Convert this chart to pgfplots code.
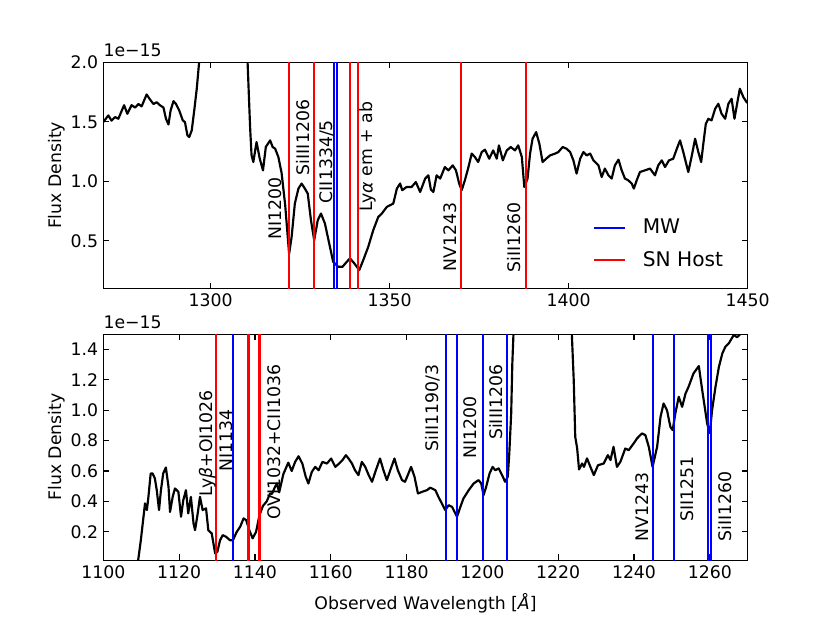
\documentclass[border=0pt]{standalone}
\usepackage{fontspec}
\setmainfont{DejaVu Sans}
\usepackage{pgfplots}
\pgfplotsset{compat=1.18}

\pgfplotsset{
  specaxis/.style={
    scale only axis, width=447.2pt, height=156.8pt, anchor=south west,
    axis line style={line width=0.8pt},
    every tick/.style={black, line width=0.8pt},
    major tick length=4pt,
    tick align=inside,
    xtick pos=both, ytick pos=both,
    font=\fontsize{12}{14}\selectfont,
    tick label style={font=\fontsize{12}{14}\selectfont},
    /pgf/number format/assume math mode=true,
    scaled ticks=false,
    clip mode=individual,
    ylabel={Flux Density},
    ylabel style={at={(axis description cs:-0.072,0.5)}, anchor=center},
    xticklabel style={/pgf/number format/.cd, fixed, precision=0, 1000 sep={}},
    yticklabel style={/pgf/number format/.cd, fixed, fixed zerofill, precision=1},
  },
  vl/.style={line width=1.4pt, forget plot},
  spec/.style={black, line width=1.5pt, forget plot, line join=round},
}
\tikzset{lab/.style={rotate=90, anchor=west, inner sep=0pt, font=\fontsize{12}{14}\selectfont}}

\begin{document}
\begin{tikzpicture}
\useasboundingbox (0,0) rectangle (576pt,432.4pt);

% ---------------- top panel ----------------
\begin{axis}[specaxis, at={(71.7pt,232.3pt)},
  xmin=1270, xmax=1450, ymin=0.1, ymax=2.0,
  xtick={1300,1350,1400,1450},
  ytick={0.5,1.0,1.5,2.0},
  legend style={draw=none, fill=none, font=\fontsize{14}{16}\selectfont,
    at={(rel axis cs:0.752,0.196)}, anchor=west, row sep=7pt},
  legend cell align=left,
  legend image code/.code={\draw[#1] (0pt,0pt) -- (21.5pt,0pt); \path (31.5pt,0pt);},
]
\addplot[spec] coordinates {
(1270.0,1.498) (1271.4,1.554) (1272.3,1.51) (1273.3,1.54) (1274.2,1.526)
(1275.8,1.64) (1276.7,1.568) (1277.9,1.64) (1278.9,1.62) (1279.8,1.65)
(1280.7,1.63) (1282.1,1.73) (1283.0,1.69) (1284.0,1.65) (1284.9,1.665)
(1285.8,1.64) (1286.8,1.62) (1287.5,1.526) (1288.2,1.478) (1288.8,1.596)
(1289.6,1.674) (1290.3,1.65) (1291.2,1.596) (1292.2,1.512) (1292.8,1.498)
(1293.5,1.386) (1294.0,1.372) (1294.7,1.428) (1295.4,1.596) (1296.1,1.778)
(1296.8,2.015) (1297.5,2.5) (1309.8,2.5) (1310.3,2.0) (1311.0,1.456)
(1311.4,1.22) (1311.9,1.162) (1312.8,1.33) (1313.7,1.19) (1314.6,1.092)
(1315.4,1.29) (1316.6,1.344) (1317.3,1.288) (1318.0,1.274) (1318.9,1.204)
(1319.8,1.07) (1320.8,0.80) (1321.9,0.39) (1322.6,0.533) (1323.5,0.813)
(1324.5,0.939) (1325.4,0.981) (1326.3,0.939) (1327.1,0.897) (1328.0,0.673)
(1328.9,0.505) (1329.9,0.673) (1330.8,0.729) (1331.9,0.645) (1333.3,0.449)
(1334.2,0.323) (1335.6,0.281) (1336.8,0.281) (1338.0,0.323) (1338.9,0.352)
(1340.1,0.31) (1341.5,0.254) (1342.6,0.337) (1344.0,0.449) (1345.4,0.589)
(1346.8,0.70) (1347.8,0.729) (1349.2,0.785) (1351.0,0.813) (1352.0,0.939)
(1352.9,0.981) (1353.5,0.925) (1354.7,0.952) (1356.1,0.952) (1357.3,0.994)
(1358.5,0.91) (1359.9,1.023) (1360.8,1.05) (1361.5,0.93) (1362.2,0.91)
(1363.1,1.05) (1364.1,1.023) (1365.4,1.12) (1366.4,1.092) (1367.6,1.134)
(1368.5,1.092) (1369.4,0.981) (1370.1,0.925) (1371.0,1.009) (1372.0,1.12)
(1372.9,1.233) (1373.8,1.204) (1374.7,1.162) (1375.7,1.246) (1376.6,1.266)
(1377.8,1.19) (1378.9,1.26) (1379.9,1.19) (1380.5,1.302) (1381.6,1.176)
(1382.7,1.26) (1383.8,1.288) (1385.0,1.26) (1385.9,1.302) (1386.9,1.204)
(1387.6,0.952) (1388.5,1.023) (1389.2,1.233) (1389.9,1.358) (1390.9,1.414)
(1391.8,1.316) (1392.7,1.162) (1393.7,1.19) (1394.8,1.218) (1396.2,1.233)
(1397.1,1.246) (1398.3,1.288) (1399.4,1.274) (1400.4,1.246) (1401.3,1.176)
(1402.2,1.065) (1403.2,1.19) (1404.1,1.246) (1405.0,1.218) (1406.0,1.233)
(1406.9,1.176) (1408.3,1.134) (1409.2,1.036) (1410.1,1.107) (1411.1,1.05)
(1412.0,1.023) (1412.9,1.134) (1413.9,1.182) (1414.8,1.092) (1415.7,1.023)
(1416.6,1.009) (1417.6,0.981) (1418.2,0.939) (1419.0,1.009) (1419.9,1.078)
(1421.3,1.092) (1422.7,1.107) (1424.1,1.05) (1425.0,1.134) (1426.0,1.176)
(1426.9,1.12) (1428.0,1.176) (1429.2,1.19) (1430.2,1.274) (1431.1,1.344)
(1432.0,1.246) (1433.4,1.078) (1434.4,1.218) (1435.3,1.358) (1436.2,1.246)
(1437.0,1.162) (1437.6,1.316) (1438.3,1.484) (1439.0,1.526) (1439.9,1.512)
(1440.9,1.61) (1441.8,1.652) (1442.7,1.568) (1443.7,1.526) (1444.6,1.652)
(1445.5,1.694) (1446.3,1.526) (1447.2,1.68) (1447.8,1.778) (1448.8,1.707)
(1449.7,1.665) (1450.0,1.66)
};
\addplot[vl, red]  coordinates {(1321.9,0) (1321.9,3)};
\addplot[vl, red]  coordinates {(1328.8,0) (1328.8,3)};
\addplot[vl, blue] coordinates {(1334.4,0) (1334.4,3)};
\addplot[vl, blue] coordinates {(1335.3,0) (1335.3,3)};
\addplot[vl, red]  coordinates {(1338.8,0) (1338.8,3)};
\addplot[vl, red]  coordinates {(1341.1,0) (1341.1,3)};
\addplot[vl, red]  coordinates {(1370.0,0) (1370.0,3)};
\addplot[vl, red]  coordinates {(1388.0,0) (1388.0,3)};
\addlegendimage{blue, line width=1.4pt}
\addlegendentry{MW}
\addlegendimage{red, line width=1.4pt}
\addlegendentry{SN Host}
\node[lab] at (axis cs:1318.0,0.505) {NI1200};
\node[lab] at (axis cs:1325.9,1.05) {SiIII1206};
\node[lab] at (axis cs:1332.4,0.813) {CII1334/5};
\node[lab] at (axis cs:1343.9,0.743) {Ly\textit{α} em + ab};
\node[lab] at (axis cs:1366.9,0.24) {NV1243};
\node[lab] at (axis cs:1384.7,0.23) {SiII1260};
\node[anchor=south west, inner sep=0pt, font=\fontsize{12}{14}\selectfont] at (rel axis cs:0,1) [yshift=3.5pt] {1e−15};
\end{axis}

% ---------------- bottom panel ----------------
\begin{axis}[specaxis, at={(71.7pt,43.7pt)},
  xmin=1100, xmax=1270, ymin=0.014, ymax=1.5,
  xtick={1100,1120,1140,1160,1180,1200,1220,1240,1260},
  ytick={0.2,0.4,0.6,0.8,1.0,1.2,1.4},
  xlabel={Observed Wavelength [\textit{Å}]},
  xlabel style={at={(axis description cs:0.5,-0.19)}, anchor=center},
]
\addplot[spec] coordinates {
(1109.0,-0.05) (1109.2,0.014) (1109.9,0.145) (1110.6,0.299) (1111.0,0.387)
(1111.5,0.343) (1111.9,0.43) (1112.5,0.584) (1113.0,0.584) (1113.6,0.551)
(1114.1,0.474) (1114.7,0.343) (1115.2,0.474) (1115.8,0.584) (1116.5,0.623)
(1117.2,0.496) (1117.6,0.331) (1118.3,0.43) (1118.9,0.485) (1119.8,0.463)
(1120.5,0.299) (1121.1,0.408) (1121.8,0.474) (1122.4,0.321) (1123.1,0.43)
(1123.8,0.255) (1124.2,0.211) (1124.9,0.321) (1125.5,0.43) (1126.2,0.343)
(1127.1,0.354) (1127.7,0.211) (1128.6,0.189) (1129.5,0.058) (1130.1,0.069)
(1130.8,0.145) (1131.5,0.178) (1132.4,0.167) (1133.4,0.145) (1134.2,0.145)
(1135.2,0.2) (1136.1,0.233) (1137.0,0.288) (1137.7,0.277) (1138.5,0.211)
(1139.4,0.157) (1140.3,0.2) (1141.2,0.31) (1142.1,0.37) (1143.1,0.40)
(1144.0,0.452) (1144.5,0.45) (1145.2,0.49) (1145.8,0.518) (1146.4,0.46)
(1147.5,0.58) (1148.8,0.655) (1149.7,0.60) (1150.6,0.66) (1151.5,0.697)
(1152.5,0.649) (1153.4,0.562) (1154.1,0.518) (1155.0,0.594) (1155.9,0.627)
(1156.8,0.605) (1157.8,0.66) (1159.0,0.649) (1160.1,0.682) (1161.2,0.627)
(1162.2,0.649) (1163.1,0.672) (1164.0,0.704) (1164.7,0.682) (1165.6,0.649)
(1166.4,0.605) (1167.3,0.573) (1168.2,0.66) (1169.1,0.627) (1170.0,0.573)
(1170.9,0.529) (1171.9,0.605) (1173.0,0.682) (1173.9,0.605) (1174.8,0.54)
(1175.7,0.605) (1176.8,0.682) (1177.7,0.605) (1178.8,0.54) (1179.6,0.529)
(1180.5,0.584) (1181.2,0.627) (1182.1,0.562) (1183.0,0.452) (1184.1,0.463)
(1185.4,0.474) (1186.2,0.49) (1186.7,0.485) (1187.6,0.474) (1188.4,0.43)
(1189.3,0.387) (1190.2,0.343) (1191.1,0.375) (1192.0,0.364) (1193.3,0.299)
(1194.2,0.364) (1195.0,0.419) (1196.4,0.474) (1197.7,0.518) (1199.0,0.54)
(1199.7,0.518) (1200.3,0.441) (1201.0,0.496) (1201.9,0.584) (1202.7,0.627)
(1203.4,0.605) (1204.3,0.617) (1205.2,0.573) (1206.0,0.529) (1206.7,0.562)
(1207.1,0.715) (1207.6,0.978) (1207.9,1.307) (1208.2,1.5) (1208.6,2.0)
(1223.2,2.0) (1223.6,1.5) (1224.1,1.197) (1224.5,0.824) (1225.0,0.75)
(1225.5,0.61) (1226.3,0.649) (1226.8,0.627) (1227.6,0.683) (1228.5,0.627)
(1229.4,0.573) (1230.5,0.638) (1232.0,0.649) (1233.1,0.704) (1233.8,0.672)
(1234.6,0.759) (1235.5,0.627) (1236.4,0.66) (1237.7,0.748) (1238.6,0.737)
(1239.9,0.781) (1240.8,0.814) (1242.1,0.847) (1243.0,0.836) (1243.9,0.759)
(1244.9,0.627) (1246.1,0.759) (1247.0,0.956) (1247.8,1.044) (1248.7,1.0)
(1249.6,0.89) (1250.2,0.869) (1250.9,0.978) (1251.8,1.088) (1252.7,1.022)
(1253.6,1.11) (1254.4,1.154) (1255.7,1.242) (1257.1,1.29) (1258.0,1.131)
(1259.3,0.912) (1260.0,0.85) (1260.6,1.0) (1261.5,1.154) (1262.4,1.285)
(1263.3,1.373) (1264.1,1.417) (1265.0,1.439) (1266.3,1.494) (1267.2,1.48)
(1268.0,1.5) (1269.0,1.52) (1270.0,1.55)
};
\addplot[vl, red]  coordinates {(1129.7,-1) (1129.7,3)};
\addplot[vl, blue] coordinates {(1134.2,-1) (1134.2,3)};
\addplot[vl, red]  coordinates {(1138.3,-1) (1138.3,3)};
\addplot[vl, red]  coordinates {(1141.2,-1) (1141.2,3)};
\addplot[vl, blue] coordinates {(1190.4,-1) (1190.4,3)};
\addplot[vl, blue] coordinates {(1193.3,-1) (1193.3,3)};
\addplot[vl, blue] coordinates {(1200.2,-1) (1200.2,3)};
\addplot[vl, blue] coordinates {(1206.6,-1) (1206.6,3)};
\addplot[vl, blue] coordinates {(1245.0,-1) (1245.0,3)};
\addplot[vl, blue] coordinates {(1250.6,-1) (1250.6,3)};
\addplot[vl, blue] coordinates {(1259.5,-1) (1259.5,3)};
\addplot[vl, blue] coordinates {(1260.4,-1) (1260.4,3)};
\node[lab] at (axis cs:1127.4,0.43) {Ly\textit{β}+OI1026};
\node[lab] at (axis cs:1132.3,0.594) {NI1134};
\node[lab] at (axis cs:1145.1,0.277) {OVI1032+CII1036};
\node[lab] at (axis cs:1186.9,0.726) {SiII1190/3};
\node[lab] at (axis cs:1196.8,0.682) {NI1200};
\node[lab] at (axis cs:1203.7,0.803) {SiIII1206};
\node[lab] at (axis cs:1242.1,0.134) {NV1243};
\node[lab] at (axis cs:1254.0,0.266) {SII1251};
\node[lab] at (axis cs:1263.9,0.134) {SiII1260};
\node[anchor=south west, inner sep=0pt, font=\fontsize{12}{14}\selectfont] at (rel axis cs:0,1) [yshift=3.5pt] {1e−15};
\end{axis}
\end{tikzpicture}
\end{document}
